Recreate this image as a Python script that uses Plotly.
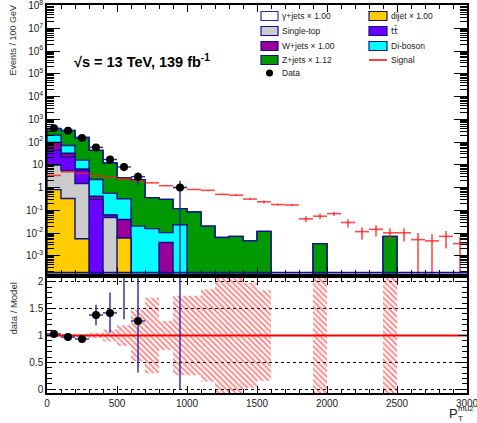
import plotly.graph_objects as go
import math

W, H = 477, 423
L, R, T, B = 47, 467, 5, 393

def px(x):
    return (x - L) / (R - L)

def py(y):
    return (B - y) / (B - T)

# ---------------- data ----------------
edges = [100 * i for i in range(31)]
centers = [50 + 100 * i for i in range(30)]

dijet = [0.81, 0.33, 0.0056, 0, 0, 0.006] + [0] * 24
single_top = [8.8, 5.2, 1.49, 0, 0.048] + [0] * 25
ttbar = [34.4, 16.5, 4.3, 0.30, 0.014] + [0] * 25
wjets = [52, 10, 0.7, 0.11, 0, 0.033, 0, 0, 0.0038] + [0] * 21
diboson = [104, 38, 9.5, 1.84, 0.49, 0.28, 0.020, 0.0155, 0.0066, 0.023] + [0] * 20
zjets = [185, 250, 142, 40.8, 11.4, 2.28, 2.18, 0.345, 0.29, 0.095,
         0.084, 0.020, 0.0063, 0.0071, 0.0045, 0.0118, 0, 0, 0, 0.0034,
         0, 0, 0, 0, 0.0071, 0, 0, 0, 0, 0]
gjets = [0] * 30

signal = [3.4, 4.9, 4.2, 3.3, 2.8, 2.4, 2.0, 1.6, 1.2, 1.0,
          0.82, 0.75, 0.50, 0.46, 0.31, 0.235, 0.178, 0.17, 0.042, 0.055,
          0.071, 0.029, 0.0115, 0.0145, 0.0102, 0.0102, 0.0051, 0.0045, 0.0071, 0.0034]
signal_err = [0.1, 0.12, 0.1, 0.1, 0.08, 0.07, 0.06, 0.05, 0.04, 0.04,
              0.035, 0.035, 0.03, 0.03, 0.025, 0.03, 0.015, 0.015, 0.012, 0.015,
              0.014, 0.0115, 0.0065, 0.0075, 0.0058, 0.006, 0.005, 0.0044, 0.005, 0.0034]

data = [400, 310, 150, 58, 17, 8, 3, None, None, 1] + [None] * 20

ratio = [1.03, 0.97, 0.935, 1.38, 1.42, 3.0, 1.27, None, None, 8.0] + [None] * 20
ratio_lo = [0.02, 0.03, 0.05, 0.19, 0.37, 1.7, 0.96, None, None, 8.0] + [None] * 20
ratio_hi = [0.02, 0.03, 0.05, 0.19, 0.38, 1.7, 1.5, None, None, 9.0] + [None] * 20

mc_unc = [0.02, 0.025, 0.03, 0.05, 0.11, 0.19, 0.48, 0.70, 0.27, 0.74,
          0.74, 0.86, 1.5, 1.5, 0.98, 0.84, None, None, None, 1.5,
          None, None, None, None, 1.5, None, None, None, None, None]

y_major = [1e-3, 1e-2, 1e-1, 1, 10, 1e2, 1e3, 1e4, 1e5, 1e6, 1e7, 1e8]
y_major_text = ["10<sup>-3</sup>", "10<sup>-2</sup>", "10<sup>-1</sup>", "1", "10",
                "10<sup>2</sup>", "10<sup>3</sup>", "10<sup>4</sup>", "10<sup>5</sup>",
                "10<sup>6</sup>", "10<sup>7</sup>", "10<sup>8</sup>"]
x_ticks = [0, 500, 1000, 1500, 2000, 2500, 3000]
r_ticks = [0, 0.5, 1, 1.5, 2]
r_ticks_text = ["0", "0.5", "1", "1.5", "2"]

components = [
    ("dijet", dijet, "#ffcc00"),
    ("single_top", single_top, "#cccccc"),
    ("ttbar", ttbar, "#6a00ff"),
    ("wjets", wjets, "#990099"),
    ("diboson", diboson, "#00ffff"),
    ("zjets", zjets, "#009900"),
    ("gjets", gjets, "#ffffff"),
]

legend_rows = [
    [("γ+jets × 1.00", "box", "#ffffff"), ("dijet × 1.00", "box", "#ffcc00")],
    [("Single-top", "box", "#cccccc"), ("tt\u0304", "box", "#6a00ff")],
    [("W+jets × 1.00", "box", "#990099"), ("Di-boson", "box", "#00ffff")],
    [("Z+jets × 1.12", "box", "#009900"), ("Signal", "line", "red")],
    [("Data", "dot", "black")],
]

# ---------------- figure ----------------
FLOOR = 1e-7
NAVY = "#10108a"
EBLUE = "#2424a8"
FONT = "Liberation Sans"

fig = go.Figure()

cums = []
run = [0.0] * 30
for name, vals, col in components:
    run = [a + b for a, b in zip(run, vals)]
    cums.append((name, list(run), col))

for name, cum, col in reversed(cums):
    xs, ys = [0], [FLOOR]
    for i, v in enumerate(cum):
        vv = v if v > 0 else FLOOR
        xs += [edges[i], edges[i + 1]]
        ys += [vv, vv]
    xs += [3000, 0]
    ys += [FLOOR, FLOOR]
    fig.add_trace(go.Scatter(x=xs, y=ys, xaxis="x2", yaxis="y2", mode="lines",
                             fill="toself", fillcolor=col,
                             line=dict(color=NAVY, width=1.4), hoverinfo="skip",
                             showlegend=False))

SIGC = "rgba(255,30,30,0.8)"
fig.add_trace(go.Scatter(
    x=centers, y=signal, xaxis="x2", yaxis="y2", mode="markers",
    marker=dict(size=1, color=SIGC),
    error_x=dict(type="constant", value=50, width=0, thickness=1.6, color=SIGC),
    error_y=dict(type="data", array=signal_err,
                 arrayminus=[min(e, s - 1e-6) for e, s in zip(signal_err, signal)],
                 width=0, thickness=1.6, color=SIGC),
    showlegend=False))

dx = [c for c, d in zip(centers, data) if d is not None]
dy = [d for d in data if d is not None]
de = [math.sqrt(d) for d in dy]
dem = [min(e, d - 1e-6) for e, d in zip(de, dy)]
fig.add_trace(go.Scatter(
    x=dx, y=dy, xaxis="x2", yaxis="y2", mode="markers",
    marker=dict(size=8, color="black"),
    error_x=dict(type="constant", value=50, width=0, thickness=1.4, color=EBLUE),
    error_y=dict(type="data", array=de, arrayminus=dem, width=0, thickness=1.4, color=EBLUE),
    showlegend=False))

hx, hy = [], []
for i, u in enumerate(mc_unc):
    if u is None:
        continue
    x0, x1 = edges[i], edges[i + 1]
    hx += [x0, x1, x1, x0, x0, None]
    hy += [1 - u, 1 - u, 1 + u, 1 + u, 1 - u, None]
fig.add_trace(go.Scatter(
    x=hx, y=hy, xaxis="x", yaxis="y", mode="lines", fill="toself",
    fillcolor="rgba(0,0,0,0)", line=dict(width=0, color="rgba(0,0,0,0)"),
    fillpattern=dict(shape="\\", fgcolor="#ff0000", bgcolor="rgba(0,0,0,0)", size=4, solidity=0.45),
    hoverinfo="skip", showlegend=False))

fig.add_trace(go.Scatter(x=[0, 3000], y=[1, 1], xaxis="x", yaxis="y", mode="lines",
                         line=dict(color="red", width=2), showlegend=False))

rx = [c for c, r in zip(centers, ratio) if r is not None]
ry = [r for r in ratio if r is not None]
rlo = [e for e in ratio_lo if e is not None]
rhi = [e for e in ratio_hi if e is not None]
fig.add_trace(go.Scatter(
    x=rx, y=ry, xaxis="x", yaxis="y", mode="markers",
    marker=dict(size=8, color="black"),
    error_x=dict(type="constant", value=50, width=0, thickness=1.4, color=EBLUE),
    error_y=dict(type="data", array=rhi, arrayminus=rlo, width=0, thickness=1.4, color=EBLUE),
    showlegend=False))

# ---------------- layout ----------------
top_bottom_px = 274
bot_top_px = 278
dec = 22.75
one_px = 187.5
log_lo = (one_px - top_bottom_px) / dec
log_hi = (one_px - T) / dec
r_scale = (389.3 - 281.7) / 2.0
r_lo = -(B - 389.3) / r_scale
r_hi = 2 + (281.7 - bot_top_px) / r_scale

tickfont = dict(family=FONT, size=10, color="#222")
minor_log = [k * 10 ** e for e in range(-4, 9) for k in range(2, 10)]

fig.update_layout(
    width=W, height=H, margin=dict(l=L, r=W - R, t=T, b=H - B, autoexpand=False),
    paper_bgcolor="white", plot_bgcolor="white", showlegend=False,
    xaxis=dict(domain=[0, 1], anchor="y", range=[0, 3000], tickmode="array",
               tickvals=x_ticks, ticktext=[str(v) for v in x_ticks],
               ticks="inside", ticklen=7, tickwidth=1, tickcolor="black",
               minor=dict(ticks="inside", ticklen=4, tickmode="linear", tick0=0, dtick=100,
                          tickcolor="black", showgrid=False),
               showline=True, linecolor="black", linewidth=1.5, mirror="allticks",
               showgrid=False, zeroline=False, tickfont=tickfont, automargin=False,
               ticklabeloverflow="allow"),
    yaxis=dict(domain=[0, py(bot_top_px)], anchor="x", range=[r_lo, r_hi],
               tickmode="array", tickvals=r_ticks, ticktext=r_ticks_text,
               ticks="inside", ticklen=9, tickwidth=1, tickcolor="black",
               minor=dict(ticks="inside", ticklen=5, tickmode="linear", tick0=0, dtick=0.1,
                          tickcolor="black", showgrid=False),
               showline=True, linecolor="black", linewidth=1.5, mirror="allticks",
               showgrid=True, gridcolor="black", griddash="dot", gridwidth=1,
               zeroline=False, tickfont=tickfont, automargin=False,
               ticklabeloverflow="allow"),
    xaxis2=dict(domain=[0, 1], anchor="y2", range=[0, 3000], matches="x",
                showticklabels=False, tickmode="array", tickvals=x_ticks,
                ticks="inside", ticklen=7, tickwidth=1, tickcolor="black",
                minor=dict(ticks="inside", ticklen=4, tickmode="linear", tick0=0, dtick=100,
                           tickcolor="black", showgrid=False),
                showline=True, linecolor="black", linewidth=1.5, mirror="allticks",
                showgrid=False, zeroline=False, automargin=False),
    yaxis2=dict(domain=[py(top_bottom_px), 1], anchor="x2", type="log",
                range=[log_lo, log_hi], tickmode="array", tickvals=y_major,
                ticktext=y_major_text, ticks="inside", ticklen=13, tickwidth=1,
                tickcolor="black",
                minor=dict(ticks="inside", ticklen=7, tickmode="array", tickvals=minor_log,
                           tickcolor="black", showgrid=False),
                showline=True, linecolor="black", linewidth=1.5, mirror="allticks",
                showgrid=False, zeroline=False, tickfont=tickfont, automargin=False,
                ticklabeloverflow="allow"),
)

shapes = []
annotations = []

shapes.append(dict(type="line", xref="x2", yref="paper", x0=0, x1=3000,
                   y0=py(272.6), y1=py(272.6), line=dict(color=NAVY, width=1.6)))

row_y = [16, 31, 46, 60, 73]
col_box = [(261, 278), (369, 387)]
col_text = [280, 389]
for r, row in enumerate(legend_rows):
    yc = row_y[r]
    for c, (label, kind, col) in enumerate(row):
        bx0, bx1 = col_box[c]
        if kind == "box":
            shapes.append(dict(type="rect", xref="paper", yref="paper",
                               x0=px(bx0), x1=px(bx1), y0=py(yc + 4.5), y1=py(yc - 4.5),
                               fillcolor=col, line=dict(color="#2a2ab0" if col == "#ffffff" else NAVY, width=1.2)))
        elif kind == "line":
            shapes.append(dict(type="line", xref="paper", yref="paper",
                               x0=px(bx0), x1=px(bx1), y0=py(yc), y1=py(yc),
                               line=dict(color="red", width=1.5)))
        else:
            xc = (bx0 + bx1) / 2
            shapes.append(dict(type="circle", xref="paper", yref="paper",
                               x0=px(xc - 3.5), x1=px(xc + 3.5), y0=py(yc + 3.5), y1=py(yc - 3.5),
                               fillcolor="black", line=dict(color="black", width=0)))
        fam = "DejaVu Sans" if "\u0304" in label else FONT
        annotations.append(dict(xref="paper", yref="paper", x=px(col_text[c]), y=py(yc),
                                xanchor="left", yanchor="middle", showarrow=False,
                                text=label, font=dict(family=fam, size=8.5, color="#222")))

annotations.append(dict(xref="paper", yref="paper", x=px(72), y=py(61), xanchor="left",
                        yanchor="middle", showarrow=False,
                        text="<b>√s = 13 TeV, 139 fb<sup>-1</sup></b>",
                        font=dict(family=FONT, size=14.5, color="black")))

annotations.append(dict(xref="paper", yref="paper", x=px(12), y=py(3), xanchor="center",
                        yanchor="top", showarrow=False, textangle=-90,
                        text="Events / 100 GeV", font=dict(family=FONT, size=9, color="#333")))
annotations.append(dict(xref="paper", yref="paper", x=px(12.5), y=py(281), xanchor="center",
                        yanchor="top", showarrow=False, textangle=-90,
                        text="data / Model", font=dict(family=FONT, size=9.5, color="#333")))
annotations.append(dict(xref="paper", yref="paper", x=px(447), y=py(413), xanchor="left",
                        yanchor="middle", showarrow=False, text="P",
                        font=dict(family=FONT, size=13, color="#222")))
annotations.append(dict(xref="paper", yref="paper", x=px(456), y=py(408), xanchor="left",
                        yanchor="middle", showarrow=False, text="mu2",
                        font=dict(family=FONT, size=8, color="#222")))
annotations.append(dict(xref="paper", yref="paper", x=px(456), y=py(418), xanchor="left",
                        yanchor="middle", showarrow=False, text="T",
                        font=dict(family=FONT, size=8, color="#222")))

fig.update_layout(shapes=shapes, annotations=annotations)

fig.write_html("out.html", config={"displayModeBar": False},
               post_script="document.body.style.margin='0';document.body.style.overflow='hidden';")
